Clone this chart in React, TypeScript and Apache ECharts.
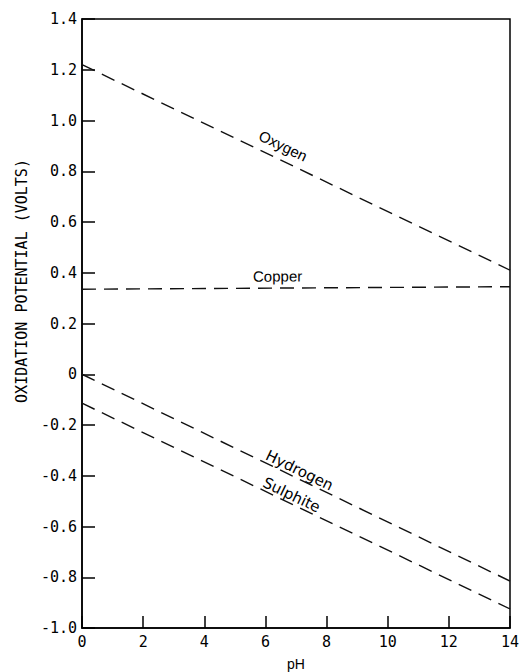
import React, { useEffect, useRef } from "react";
import * as echarts from "echarts";

const xTicks = [0, 2, 4, 6, 8, 10, 12, 14];
const oxygen: [number, number][] = [[0, 1.22], [14, 0.41]];
const copper: [number, number][] = [[0, 0.335], [14, 0.345]];
const hydrogen: [number, number][] = [[0, 0.0], [14, -0.815]];
const sulphite: [number, number][] = [[0, -0.114], [14, -0.925]];
const seriesNames = ["Oxygen", "Copper", "Hydrogen", "Sulphite"];
const labelPH = [6.38, 6.4, 7.0, 6.74];
const yTitle = "OXIDATION POTENTIAL (VOLTS)";
const xTitle = "pH";

export default function App() {
  const ref = useRef<HTMLDivElement>(null);
  useEffect(() => {
    if (!ref.current) return;
    const chart = echarts.init(ref.current, undefined, { renderer: "svg" });
    const lineStyle = { color: "#111", width: 1.4, type: [14, 8] as any };
    const mono = "DejaVu Sans Mono";
    const datas = [oxygen, copper, hydrogen, sulphite];
    chart.setOption({
      animation: false,
      backgroundColor: "#fff",
      grid: {
        left: 82,
        right: 10,
        top: 19,
        bottom: 44,
        show: true,
        borderColor: "#000",
        borderWidth: 1.5,
        containLabel: false,
        outerBoundsMode: "none",
      },
      xAxis: {
        type: "value",
        min: 0,
        max: 14,
        interval: 2,
        name: xTitle,
        nameLocation: "middle",
        nameGap: 29,
        nameTextStyle: { fontFamily: "Liberation Sans", fontSize: 14, color: "#000" },
        axisLine: { onZero: false, lineStyle: { color: "#000", width: 1.5 } },
        axisTick: { inside: true, length: 12, lineStyle: { color: "#000", width: 1.5 } },
        axisLabel: { fontFamily: mono, fontSize: 15, color: "#000", margin: 6, showMinLabel: true, showMaxLabel: true },
        splitLine: { show: false },
      },
      yAxis: {
        type: "value",
        min: -1,
        max: 1.4,
        interval: 0.2,
        axisLine: { onZero: false, lineStyle: { color: "#000", width: 1.5 } },
        axisTick: { inside: true, length: 13, lineStyle: { color: "#000", width: 1.5 } },
        axisLabel: {
          fontFamily: mono,
          fontSize: 15,
          color: "#000",
          margin: 5,
          formatter: (v: number) => (Math.abs(v) < 1e-9 ? "0" : v.toFixed(1)),
        },
        splitLine: { show: false },
      },
      series: datas.map((d, i) => ({
        name: seriesNames[i],
        type: "line",
        data: d,
        symbol: "none",
        lineStyle,
        z: 3,
      })),
    });

    const offsets = [14, 12, 8, 8];
    const fonts = ["Liberation Sans", "Liberation Sans", "DejaVu Sans", "DejaVu Sans"];
    const sizes = [15, 15, 15, 15];
    const groups: any[] = datas.map((d, i) => {
      const p0 = chart.convertToPixel({ gridIndex: 0 }, d[0]) as number[];
      const p1 = chart.convertToPixel({ gridIndex: 0 }, d[1]) as number[];
      const ang = Math.atan2(p1[1] - p0[1], p1[0] - p0[0]);
      const t = labelPH[i] / 14;
      const yv = d[0][1] + (d[1][1] - d[0][1]) * t;
      const c = chart.convertToPixel({ gridIndex: 0 }, [labelPH[i], yv]) as number[];
      return {
        type: "group",
        x: c[0],
        y: c[1],
        rotation: -ang,
        children: [
          {
            type: "text",
            x: 0,
            y: -offsets[i],
            style: {
              text: seriesNames[i],
              fontFamily: fonts[i],
              fontSize: sizes[i],
              fill: "#000",
              align: "center",
              verticalAlign: "middle",
            },
          },
        ],
      };
    });
    groups.push({
      type: "text",
      x: 22,
      y: 281,
      rotation: Math.PI / 2,
      style: {
        text: yTitle,
        fontFamily: mono,
        fontSize: 15,
        fill: "#000",
        align: "center",
        verticalAlign: "middle",
      },
    });
    chart.setOption({ graphic: groups });
    return () => chart.dispose();
  }, []);
  return (
    <div
      ref={ref}
      style={{ position: "absolute", left: 0, top: 0, width: 520, height: 672 }}
    />
  );
}
